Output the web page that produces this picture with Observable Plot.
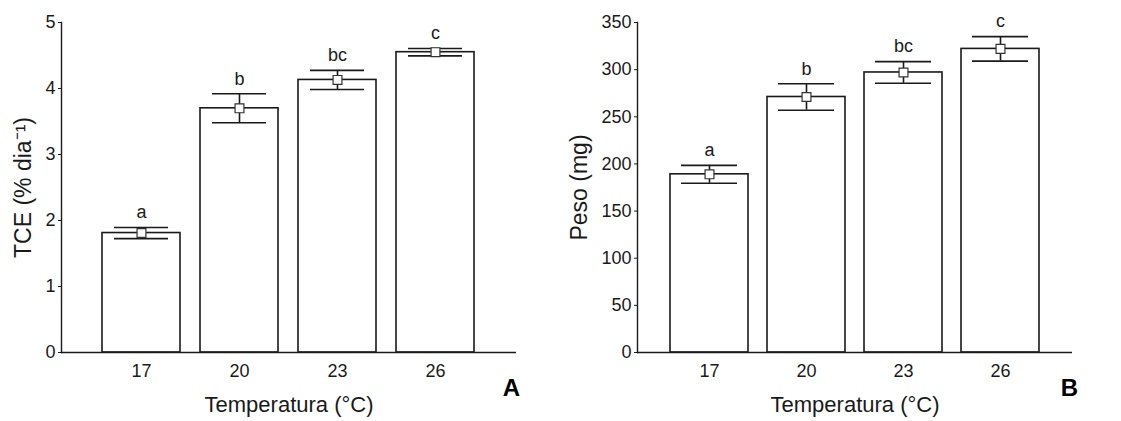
<!DOCTYPE html>
<html>
<head>
<meta charset="utf-8">
<script src="https://cdn.jsdelivr.net/npm/d3@7"></script>
<script src="https://cdn.jsdelivr.net/npm/@observablehq/plot@0.6"></script>
<style>
  html, body { margin: 0; padding: 0; background: #fff; }
  #wrap { display: flex; width: 1121px; height: 421px; }
  svg { font-family: "Liberation Sans", Arial, sans-serif; }
</style>
</head>
<body>
<div id="wrap"></div>
<script>
// ---- data ----
const temps = ["17", "20", "23", "26"];
const letters = ["a", "b", "bc", "c"];
const tceMean = [1.81, 3.70, 4.13, 4.55];
const tceErr = [0.085, 0.22, 0.145, 0.055];
const pesoMean = [189, 271, 297, 322];
const pesoErr = [9.5, 14, 11.5, 13];
const tceTicks = [0, 1, 2, 3, 4, 5];
const pesoTicks = [0, 50, 100, 150, 200, 250, 300, 350];

const ink = "#1a1a1a";

function panel({means, errs, yDomain, yTicks, yTitle, tag, width, marginLeft, marginRight, paddingOuter, inset, yTitleDx, tagDx}) {
  const rows = temps.map((t, i) => ({t, m: means[i], lo: means[i] - errs[i], hi: means[i] + errs[i], L: letters[i]}));
  return Plot.plot({
    width, height: 421,
    marginLeft, marginRight, marginTop: 22, marginBottom: 69,
    style: {fontFamily: "'Liberation Sans', Arial, sans-serif", color: ink, background: "#fff", overflow: "visible"},
    x: {type: "band", domain: temps, paddingInner: 0.2, paddingOuter, align: 0.5},
    y: {domain: yDomain},
    marks: [
      Plot.barY(rows, {x: "t", y: "m", fill: "#fff", stroke: ink, strokeWidth: 1.6}),
      Plot.ruleY([yDomain[0]], {stroke: ink, strokeWidth: 1.6}),
      Plot.frame({anchor: "left", stroke: ink, strokeWidth: 1.4}),
      Plot.axisY({ticks: yTicks, tickFormat: d => String(d), tickSize: 3, tickPadding: 3, fontSize: 18, label: null, stroke: ink}),
      Plot.axisX({tickSize: 0, tickPadding: 12, fontSize: 18, label: null}),
      Plot.ruleX(rows, {x: "t", y1: "lo", y2: "hi", stroke: ink, strokeWidth: 1.6}),
      Plot.tickY(rows, {x: "t", y: "hi", insetLeft: inset, insetRight: inset, stroke: ink, strokeWidth: 1.6}),
      Plot.tickY(rows, {x: "t", y: "lo", insetLeft: inset, insetRight: inset, stroke: ink, strokeWidth: 1.6}),
      Plot.dot(rows, {x: "t", y: "m", symbol: "square", r: 5, fill: "#fff", stroke: "#333", strokeWidth: 1.2}),
      Plot.text(rows, {x: "t", y: "hi", text: "L", dy: -15, fontSize: 18, fill: ink}),
      Plot.text([yTitle], {frameAnchor: "left", textAnchor: "middle", lineAnchor: "middle", dx: yTitleDx, rotate: -90, fontSize: 23, fill: ink}),
      Plot.text(["Temperatura (°C)"], {frameAnchor: "bottom", textAnchor: "middle", lineAnchor: "middle", dy: 52, fontSize: 22, fill: ink}),
      Plot.text([tag], {frameAnchor: "bottom-right", textAnchor: "middle", lineAnchor: "middle", dx: tagDx, dy: 36, fontSize: 24, fontWeight: "bold", fill: "#000"})
    ]
  });
}

const wrap = document.getElementById("wrap");
wrap.append(panel({
  means: tceMean, errs: tceErr, yDomain: [0, 5], yTicks: tceTicks,
  yTitle: "TCE (% dia⁻¹)", tag: "A", width: 560, marginLeft: 61, marginRight: 44,
  paddingOuter: 0.4, inset: 12, yTitleDx: -38, tagDx: -5
}));
wrap.append(panel({
  means: pesoMean, errs: pesoErr, yDomain: [0, 350], yTicks: pesoTicks,
  yTitle: "Peso (mg)", tag: "B", width: 561, marginLeft: 77, marginRight: 49,
  paddingOuter: 0.34, inset: 11, yTitleDx: -58, tagDx: -3
}));
</script>
</body>
</html>
